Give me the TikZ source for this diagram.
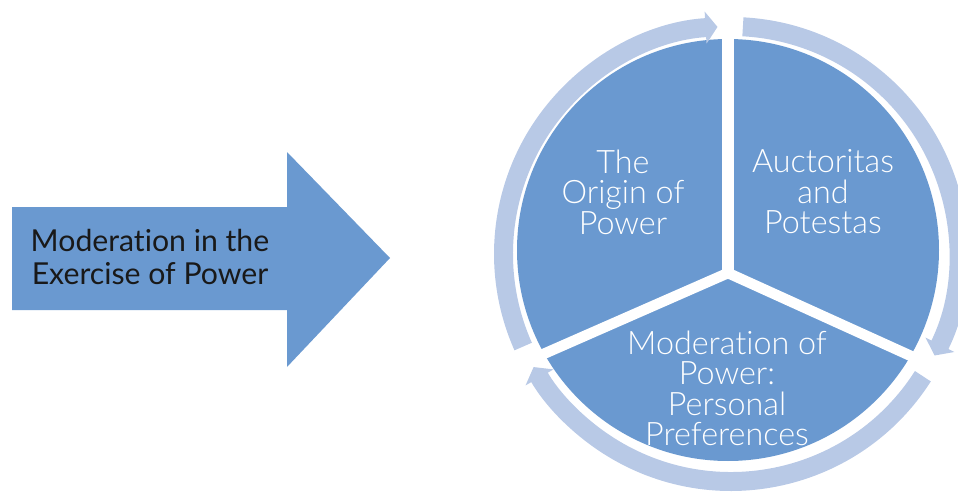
\documentclass[tikz,border=0pt]{standalone}
\usepackage{fontspec}
\setmainfont{Lato}[Ligatures=NoCommon]
\newfontfamily\lightfont{Lato Light}[Ligatures=NoCommon]
\usetikzlibrary{arrows.meta}
\definecolor{segblue}{RGB}{106,153,208}
\definecolor{ringblue}{RGB}{184,201,230}
\tikzset{
  segtext/.style={text=white, align=center, inner sep=0pt,
    font=\lightfont\fontsize{18.4pt}{17.4pt}\selectfont},
  ringarc/.style={ringblue, line width=10.8pt,
    -{Triangle[length=6.8pt,width=18pt]}},
}
\begin{document}
\begin{tikzpicture}[x=0.02cm,y=0.02cm]
    \useasboundingbox (0,0) rectangle (958,498);

    % Big arrow
    \fill[segblue] (12,291) -- (287,291) -- (287,346) -- (390,240)
        -- (287,131) -- (287,188) -- (12,188) -- cycle;
    \node[align=center, inner sep=0pt, text=black!90,
        font=\fontsize{17.2pt}{19.3pt}\selectfont] (title) at (150,241)
        {Moderation in the\\Exercise of Power};

    % Pie with white gaps
    \fill[segblue] (728,248) circle (211);
    \coordinate (J) at (728,225);
    \draw[white, line width=7pt, line cap=round] (J) -- ++(90:240);
    \draw[white, line width=6pt, line cap=round]
        (J) -- ++(203.7:235) (J) -- ++(-24.4:235);

    % Ring arrows
    \foreach \s/\e in {204/93.4, 87/-26.5, -32.5/-150.2} {
        \draw[ringarc] (731,244) ++(\s:227.5) arc[start angle=\s, end angle=\e, radius=227.5];
    }

    % Segment labels
    \node[segtext] (origin) at (623,306) {The\\Origin of\\Power};
    \node[segtext] (auctoritas) at (823,306) {Auctoritas\\and\\Potestas};
    \node[segtext] (moderation) at (727,109.5) {Moderation of\\Power:\\Personal\\Preferences};
\end{tikzpicture}
\end{document}
